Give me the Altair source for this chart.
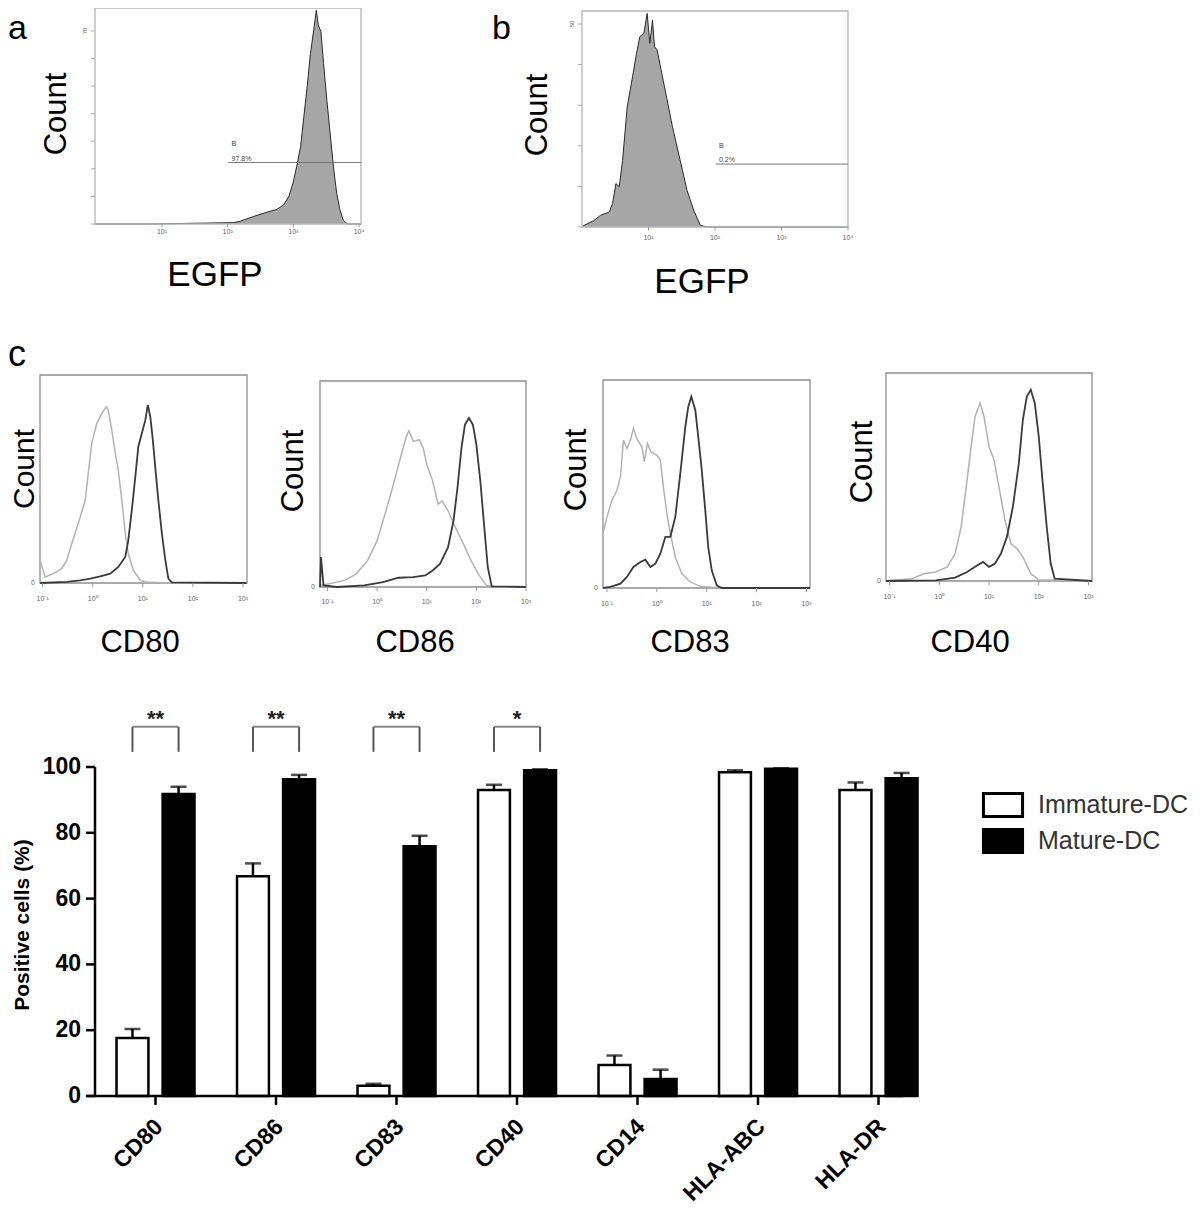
import altair as alt
import pandas as pd

FONT = "Liberation Sans"
W, H = 1184, 1206

# ---------------- data: panel a (EGFP, transduced DC) ----------------
a_log = [-0.02, 0.82, 1.58, 2.09, 2.19, 2.39, 2.60, 2.75, 2.85, 2.93, 3.00, 3.05, 3.11, 3.16,
         3.21, 3.26, 3.31, 3.35, 3.38, 3.42, 3.46, 3.51, 3.56, 3.61, 3.66, 3.71, 3.76, 3.82, 4.03]
a_count = [0, 0, 0.3, 0.5, 1.0, 2.7, 4.3, 5.3, 6.9, 9.9, 15.3, 20.8, 28.0, 38.9,
           49.7, 61.8, 70.3, 77.5, 72.1, 69.7, 58.2, 44.9, 32.9, 20.8, 11.1, 5.1, 1.4, 0, 0]
a_gate = [2.01, 4.03, 22.3]
a_gate_text = ["B", "97.8%"]
a_yticks = [0, 10, 20, 30, 40, 50, 60, 70]

# ---------------- data: panel b (EGFP, control) ----------------
b_log = [0.0, 0.03, 0.18, 0.28, 0.41, 0.46, 0.51, 0.56, 0.61, 0.68, 0.76, 0.82, 0.87, 0.93,
         0.98, 1.02, 1.06, 1.09, 1.13, 1.21, 1.28, 1.36, 1.43, 1.51, 1.58, 1.68, 1.78, 1.88, 4.0]
b_count = [0, 0.4, 1.6, 2.9, 3.7, 5.8, 10.7, 9.9, 16.4, 29.6, 37.0, 42.8, 46.9, 47.7,
           52.6, 45.2, 51.0, 44.4, 43.6, 37.0, 31.3, 24.7, 19.7, 14.0, 9.0, 4.1, 0.4, 0, 0]
b_gate = [2.01, 4.0, 15.5]
b_gate_text = ["B", "0.2%"]
b_yticks = [0, 10, 20, 30, 40, 50]

ab_xtick_vals = [1, 2, 3, 4]
ab_xtick_text = ["10\u00b9", "10\u00b2", "10\u00b3", "10\u2074"]
c_xtick_vals = [-1, 0, 1, 2, 3]
c_xtick_text = ["10\u207b\u00b9", "10\u2070", "10\u00b9", "10\u00b2", "10\u00b3"]

# ---------------- data: panel c histograms (immature = light, mature = dark) ----------------
cd80_imm_log = [-1.05, -1.04, -0.95, -0.79, -0.62, -0.52, -0.42, -0.29, -0.15, -0.09, -0.02, 0.08, 0.18,
                0.27, 0.31, 0.38, 0.45, 0.51, 0.58, 0.65, 0.71, 0.81, 0.95, 1.08, 1.48, 3.07]
cd80_imm_cnt = [10.1, 10.1, 2.9, 4.5, 6.9, 10.9, 18.9, 28.6, 39.8, 52.6, 67.1, 76.7, 81.5,
                84.8, 83.1, 73.5, 62.3, 54.3, 39.8, 23.8, 14.1, 6.1, 1.3, 0.5, 0, 0]
cd80_mat_log = [-1.05, -0.52, -0.25, -0.05, 0.15, 0.35, 0.51, 0.65, 0.71, 0.78, 0.85, 0.91, 0.98,
                1.05, 1.10, 1.15, 1.20, 1.26, 1.31, 1.38, 1.45, 1.51, 1.58, 3.07]
cd80_mat_cnt = [0, 0.5, 1.3, 2.1, 3.2, 4.5, 7.7, 12.5, 20.5, 35.0, 51.0, 65.5, 71.9,
                78.3, 85.6, 79.9, 68.7, 52.6, 39.8, 23.8, 10.9, 2.1, 0.3, 0]

cd86_imm_log = [-1.15, -0.96, -0.65, -0.42, -0.19, 0.0, 0.16, 0.31, 0.47, 0.58, 0.64, 0.73, 0.85,
                0.93, 1.0, 1.12, 1.23, 1.31, 1.43, 1.58, 1.74, 1.89, 2.04, 2.2, 2.43, 3.0]
cd86_imm_cnt = [0.8, 1.6, 3.2, 6.4, 12.9, 22.5, 35.4, 48.2, 62.7, 72.3, 75.9, 70.7, 71.5,
                67.5, 59.5, 51.4, 40.2, 41.8, 37.0, 28.9, 20.9, 12.9, 6.4, 0.8, 0, 0]
cd86_mat_log = [-1.15, -1.13, -1.08, -0.81, -0.26, 0.12, 0.43, 0.73, 0.97, 1.12, 1.27, 1.43, 1.54,
                1.62, 1.70, 1.77, 1.85, 1.93, 2.0, 2.08, 2.16, 2.23, 2.31, 3.0]
cd86_mat_cnt = [0, 14.5, 0.8, 0, 0.8, 2.4, 4.5, 4.8, 5.6, 8.0, 11.3, 19.3, 32.2,
                48.2, 67.5, 78.8, 82.0, 78.8, 69.1, 51.4, 28.9, 9.6, 0.3, 0]

cd83_imm_log = [-1.08, -1.0, -0.9, -0.8, -0.73, -0.67, -0.6, -0.53, -0.47, -0.39, -0.3, -0.25, -0.19,
                -0.12, 0.0, 0.07, 0.13, 0.2, 0.27, 0.37, 0.5, 0.67, 0.87, 1.27, 3.07]
cd83_imm_cnt = [26.2, 34.2, 42.2, 47.0, 53.5, 71.1, 67.1, 71.1, 76.7, 71.1, 67.9, 60.7, 69.5,
                65.5, 63.9, 61.5, 48.6, 35.8, 26.2, 14.9, 6.9, 2.9, 0.8, 0, 0]
cd83_mat_log = [-1.08, -0.93, -0.73, -0.6, -0.47, -0.33, -0.23, -0.13, -0.03, 0.07, 0.17, 0.27, 0.37,
                0.47, 0.57, 0.63, 0.69, 0.77, 0.83, 0.9, 0.97, 1.03, 1.1, 1.2, 1.3, 3.07]
cd83_mat_cnt = [0, 0.5, 2.1, 5.3, 10.1, 12.5, 13.6, 10.1, 11.7, 16.5, 24.6, 24.6, 34.2,
                55.1, 77.5, 87.2, 92.0, 85.6, 72.7, 56.7, 37.4, 19.7, 8.5, 1.3, 0, 0]

cd40_imm_log = [-1.07, -1.03, -0.55, -0.31, -0.07, 0.16, 0.32, 0.44, 0.56, 0.64, 0.72, 0.82, 0.90,
                1.0, 1.10, 1.20, 1.32, 1.44, 1.56, 1.68, 1.84, 2.0, 3.07]
cd40_imm_cnt = [0, 0.3, 1.1, 3.5, 4.3, 6.8, 13.2, 26.0, 48.6, 64.6, 79.1, 85.5, 79.1,
                64.6, 58.2, 45.3, 29.3, 18.0, 15.6, 11.6, 3.5, 0.6, 0]
cd40_mat_log = [-1.07, -0.07, 0.32, 0.56, 0.72, 0.88, 1.0, 1.12, 1.24, 1.36, 1.48, 1.60, 1.68,
                1.76, 1.84, 1.92, 2.0, 2.08, 2.16, 2.24, 2.32, 3.07]
cd40_mat_cnt = [0, 0.3, 1.6, 4.3, 6.8, 9.2, 6.8, 8.4, 13.2, 21.2, 35.7, 56.6, 77.5,
                88.7, 92.0, 85.5, 69.5, 46.9, 26.0, 8.4, 1.1, 0]

# ---------------- data: bar chart ----------------
markers = ["CD80", "CD86", "CD83", "CD40", "CD14", "HLA-ABC", "HLA-DR"]
groups = ["Immature-DC", "Mature-DC"]
imm_mean = [17.6, 66.8, 3.1, 93.0, 9.4, 98.4, 93.0]
imm_err = [2.8, 3.9, 0.6, 1.6, 2.9, 0.6, 2.3]
mat_mean = [91.8, 96.3, 75.9, 99.0, 5.2, 99.5, 96.6]
mat_err = [2.2, 1.3, 3.2, 0.3, 2.8, 0.1, 1.6]
sig_markers = ["CD80", "CD86", "CD83", "CD40"]
sig_stars = ["**", "**", "**", "*"]
bar_yticks = [0, 20, 40, 60, 80, 100]

# ---------------- helpers ----------------
ONE = alt.InlineData(values=[{"k": 1}])


def lin(domain, rng):
    return alt.Scale(domain=domain, range=rng, nice=False, zero=False)


def box_layer(xdom, ydom, color):
    return alt.Chart(ONE).mark_rect(fillOpacity=0, stroke=color, strokeWidth=1.3).encode(
        x=alt.X(datum=xdom[0], axis=None), x2=alt.X2(datum=xdom[1]),
        y=alt.Y(datum=ydom[0], axis=None), y2=alt.Y2(datum=ydom[1]))


def x_ticks(vals, texts, ydom, tick_frac, label_frac):
    df = pd.DataFrame({"v": vals, "t": texts})
    ticks = alt.Chart(df).mark_rule(color="#999", strokeWidth=1).encode(
        x=alt.X("v:Q", axis=None), y=alt.Y(datum=ydom[0], axis=None),
        y2=alt.Y2(datum=ydom[0] - ydom[1] * tick_frac))
    labels = alt.Chart(df).mark_text(font=FONT, fontSize=7, color="#666", baseline="middle").encode(
        x=alt.X("v:Q", axis=None), y=alt.Y(datum=ydom[0] - ydom[1] * label_frac, axis=None),
        text="t:N")
    return [ticks, labels]


def filled_hist(xs, ys, xdom, ydom, xr, yr, yticks, gate, gate_text, label_frac):
    df = pd.DataFrame({"x": xs, "y": ys})
    area = alt.Chart(df).mark_area(color="#808080", line={"color": "#2a2a2a", "strokeWidth": 1}).encode(
        x=alt.X("x:Q", scale=lin(xdom, xr), axis=None),
        y=alt.Y("y:Q", scale=lin(ydom, yr), axis=None))
    ydf = pd.DataFrame({"v": yticks, "t": [str(v) for v in yticks]})
    xspan = xdom[1] - xdom[0]
    yt = alt.Chart(ydf).mark_rule(color="#aaa", strokeWidth=1).encode(
        y=alt.Y("v:Q", axis=None), x=alt.X(datum=xdom[0] - xspan * 0.015, axis=None),
        x2=alt.X2(datum=xdom[0]))
    ylab = alt.Chart(ydf.tail(1)).mark_text(font=FONT, fontSize=6, color="#666", angle=270,
                                            baseline="bottom").encode(
        y=alt.Y("v:Q", axis=None), x=alt.X(datum=xdom[0] - xspan * 0.025, axis=None), text="t:N")
    gate_rule = alt.Chart(ONE).mark_rule(color="#777", strokeWidth=1).encode(
        x=alt.X(datum=gate[0], axis=None), x2=alt.X2(datum=gate[1]), y=alt.Y(datum=gate[2], axis=None))
    gl1 = alt.Chart(ONE).mark_text(text=gate_text[0], align="left", baseline="bottom", font=FONT,
                                   fontSize=7, color="#444").encode(
        x=alt.X(datum=gate[0] + 0.05, axis=None), y=alt.Y(datum=gate[2] + ydom[1] * 0.07, axis=None))
    gl2 = alt.Chart(ONE).mark_text(text=gate_text[1], align="left", baseline="bottom", font=FONT,
                                   fontSize=7, color="#444").encode(
        x=alt.X(datum=gate[0] + 0.05, axis=None), y=alt.Y(datum=gate[2] + ydom[1] * 0.004, axis=None))
    xt = x_ticks(ab_xtick_vals, ab_xtick_text, ydom, 0.015, label_frac)
    return alt.layer(area, box_layer(xdom, ydom, "#b5b5b5"), yt, ylab, gate_rule, gl1, gl2, *xt)


def overlay_hist(ix, iy, mx, my, xdom, xr, yr):
    ydom = [0, 100]
    imm = alt.Chart(pd.DataFrame({"x": ix, "y": iy})).mark_line(color="#b3b3b3", strokeWidth=1.5).encode(
        x=alt.X("x:Q", scale=lin(xdom, xr), axis=None),
        y=alt.Y("y:Q", scale=lin(ydom, yr), axis=None))
    mat = alt.Chart(pd.DataFrame({"x": mx, "y": my})).mark_line(color="#3a3a3a", strokeWidth=1.8).encode(
        x=alt.X("x:Q", axis=None), y=alt.Y("y:Q", axis=None))
    zero = alt.Chart(ONE).mark_text(text="0", font=FONT, fontSize=7, color="#666", align="right",
                                    baseline="middle", dx=-5).encode(
        x=alt.X(datum=xdom[0], axis=None), y=alt.Y(datum=0, axis=None))
    xt = x_ticks(c_xtick_vals, c_xtick_text, ydom, 0.02, 0.075)
    return alt.layer(box_layer(xdom, ydom, "#8f8f8f"), imm, mat, zero, *xt)


def label(text, x, y, size, angle=0, weight="normal", align="center", baseline="alphabetic"):
    return alt.Chart(ONE).mark_text(text=text, font=FONT, fontSize=size, angle=angle,
                                    fontWeight=weight, align=align, baseline=baseline,
                                    color="black").encode(x=alt.value(x), y=alt.value(y))


# ---------------- panels a, b ----------------
panel_a = filled_hist(a_log, a_count, [-0.02, 4.03], [0, 78.3], [87, 353], [216, 0], a_yticks,
                      a_gate, a_gate_text, 0.037)
panel_b = filled_hist(b_log, b_count, [0.0, 4.0], [0, 53.2], [574, 840], [219, 3], b_yticks,
                      b_gate, b_gate_text, 0.05)

# ---------------- panel c histograms ----------------
p80 = overlay_hist(cd80_imm_log, cd80_imm_cnt, cd80_mat_log, cd80_mat_cnt, [-1.053, 3.08], [32, 239], [575, 367])
p86 = overlay_hist(cd86_imm_log, cd86_imm_cnt, cd86_mat_log, cd86_mat_cnt, [-1.15, 3.0], [312, 518], [579, 373])
p83 = overlay_hist(cd83_imm_log, cd83_imm_cnt, cd83_mat_log, cd83_mat_cnt, [-1.08, 3.07], [595, 802], [580, 372])
p40 = overlay_hist(cd40_imm_log, cd40_imm_cnt, cd40_mat_log, cd40_mat_cnt, [-1.07, 3.07], [878, 1084], [573, 365])

# ---------------- bar chart ----------------
bar_df = pd.DataFrame({
    "marker": markers * 2,
    "group": [groups[0]] * len(markers) + [groups[1]] * len(markers),
    "value": imm_mean + mat_mean,
    "err": imm_err + mat_err,
})
bar_df["top"] = bar_df["value"] + bar_df["err"]
sig_df = pd.DataFrame({"marker": sig_markers, "stars": sig_stars})
sig_legs = pd.DataFrame([{"marker": m, "group": g} for m in sig_markers for g in groups])
mk_df = pd.DataFrame({"marker": markers})
yt_df = pd.DataFrame({"v": bar_yticks, "t": [str(v) for v in bar_yticks]})

xs = alt.Scale(domain=markers, range=[87.25, 930.75], paddingInner=0.353, paddingOuter=0.1765)
xo = alt.Scale(domain=groups, range=[0, 78], paddingInner=0.308, paddingOuter=0)
ys = alt.Scale(domain=[0, 100], range=[1088, 759], nice=False)

bars = alt.Chart(bar_df).mark_bar(stroke="black", strokeWidth=2.5).encode(
    x=alt.X("marker:N", scale=xs, sort=markers, axis=None),
    xOffset=alt.XOffset("group:N", scale=xo, sort=groups),
    y=alt.Y("value:Q", scale=ys, axis=None),
    fill=alt.Fill("group:N", scale=alt.Scale(domain=groups, range=["white", "black"]),
                  legend=alt.Legend(orient="none", legendX=982, legendY=784, title=None,
                                    symbolType="M-1.7,-1L1.7,-1L1.7,1L-1.7,1Z", symbolSize=529,
                                    symbolStrokeColor="black", symbolStrokeWidth=3,
                                    labelFont=FONT, labelFontSize=25, labelColor="#333",
                                    labelOffset=22, rowPadding=0, padding=0)),
)
err_rule = alt.Chart(bar_df).mark_rule(color="black", strokeWidth=2.5).encode(
    x=alt.X("marker:N", axis=None), xOffset="group:N",
    y=alt.Y("value:Q", axis=None), y2="top:Q")
err_cap = alt.Chart(bar_df).mark_tick(orient="horizontal", size=16, thickness=2.5, color="black").encode(
    x=alt.X("marker:N", axis=None), xOffset="group:N", y=alt.Y("top:Q", axis=None))

# axes drawn as marks
x_line = alt.Chart(ONE).mark_rule(color="black", strokeWidth=2.5).encode(
    y=alt.Y(datum=0, axis=None), x=alt.value(79), x2=alt.value(895))
y_line = alt.Chart(ONE).mark_rule(color="black", strokeWidth=2.5).encode(
    y=alt.Y(datum=0, axis=None), y2=alt.Y2(datum=100), x=alt.value(87))
y_ticks = alt.Chart(yt_df).mark_rule(color="black", strokeWidth=2.5).encode(
    y=alt.Y("v:Q", axis=None), x=alt.value(78), x2=alt.value(87))
y_labels = alt.Chart(yt_df).mark_text(font=FONT, fontSize=23, fontWeight="bold", align="right",
                                      baseline="middle", color="black").encode(
    y=alt.Y("v:Q", axis=None), x=alt.value(73), text="t:N")
x_ticks_bar = alt.Chart(mk_df).mark_rule(color="black", strokeWidth=2.5).encode(
    x=alt.X("marker:N", axis=None), y=alt.Y(datum=0, axis=None), y2=alt.Y2(datum=-2.7))
x_labels = alt.Chart(mk_df).mark_text(font=FONT, fontSize=23, fontWeight="bold", align="right",
                                      baseline="top", angle=315, dx=-6, color="black").encode(
    x=alt.X("marker:N", axis=None), y=alt.Y(datum=-4.6, axis=None), text="marker:N")

br_legs = alt.Chart(sig_legs).mark_rule(color="#555", strokeWidth=2).encode(
    x=alt.X("marker:N", axis=None), xOffset="group:N",
    y=alt.Y(datum=104.6, axis=None), y2=alt.Y2(datum=112.2))
br_top = alt.Chart(sig_df).mark_tick(orient="horizontal", size=46, thickness=2, color="#555").encode(
    x=alt.X("marker:N", axis=None), y=alt.Y(datum=112.2, axis=None))
br_star = alt.Chart(sig_df).mark_text(font=FONT, fontSize=22, fontWeight="bold", baseline="middle",
                                      color="#222").encode(
    x=alt.X("marker:N", axis=None), y=alt.Y(datum=114.5, axis=None), text="stars:N")

bar_panel = alt.layer(bars, err_rule, err_cap, x_line, y_line, y_ticks, y_labels, x_ticks_bar,
                      x_labels, br_legs, br_top, br_star)

# ---------------- text labels ----------------
texts = [
    label("a", 0, 31, 34, align="left"),
    label("b", 484, 31, 34, align="left"),
    label("c", 0, 358, 36, align="left"),
    label("Count", 49, 106, 31, angle=270, baseline="middle"),
    label("Count", 530, 107, 31, angle=270, baseline="middle"),
    label("EGFP", 207, 278, 35),
    label("EGFP", 694, 285, 35),
    label("Count", 17, 461, 30, angle=270, baseline="middle"),
    label("Count", 286, 463, 31, angle=270, baseline="middle"),
    label("Count", 569, 462, 31, angle=270, baseline="middle"),
    label("Count", 855, 454, 31, angle=270, baseline="middle"),
    label("CD80", 132, 644, 31),
    label("CD86", 407, 644, 31),
    label("CD83", 682, 644, 31),
    label("CD40", 962, 644, 31),
    label("Positive cells (%)", 15, 917, 21, angle=270, weight="bold", baseline="middle"),
]

chart = alt.layer(panel_a, panel_b, p80, p86, p83, p40, bar_panel, *texts).resolve_scale(
    x="independent", y="independent"
).properties(
    width=W, height=H, autosize=alt.AutoSizeParams(type="none"), padding=0, background="white"
).configure_view(strokeWidth=0)

chart.save("out.html", embed_options={"renderer": "svg", "actions": False})
